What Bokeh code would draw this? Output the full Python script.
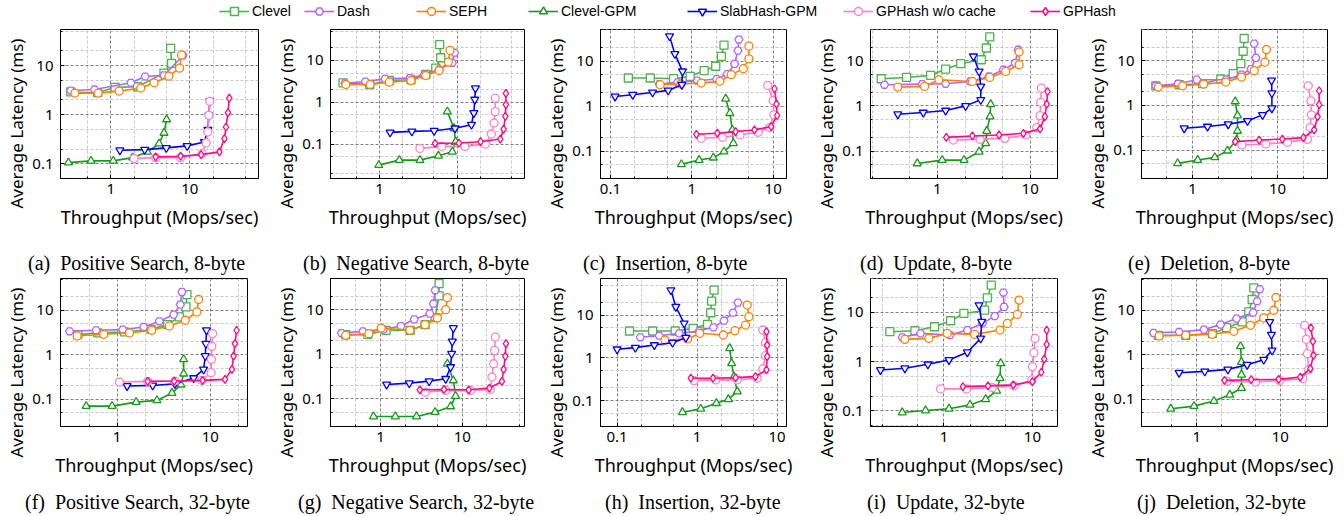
from bokeh.plotting import figure
from bokeh.layouts import column, row
from bokeh.models import Range1d, FixedTicker, Title, Legend, LegendItem, CustomJSTickFormatter, Div
from bokeh.embed import file_html
from bokeh.resources import INLINE

SERIES = ["Clevel", "Dash", "SEPH", "Clevel-GPM", "SlabHash-GPM", "GPHash w/o cache", "GPHash"]
KEYS = ["clevel", "dash", "seph", "clgpm", "slab", "gpnc", "gph"]
COLORS = ["#4DB34D", "#B366FF", "#FF8000", "#1A9A1A", "#0000FF", "#FF80C8", "#FF0A82"]
MARKERS = ["square", "hex", "circle", "triangle", "inverted_triangle", "circle", "diamond"]

PANELS = ["a", "b", "c", "d", "e", "f", "g", "h", "i", "j"]
CAPTIONS = ["(a)&nbsp; Positive Search, 8-byte", "(b)&nbsp; Negative Search, 8-byte",
            "(c)&nbsp; Insertion, 8-byte", "(d)&nbsp; Update, 8-byte", "(e)&nbsp; Deletion, 8-byte",
            "(f)&nbsp; Positive Search, 32-byte", "(g)&nbsp; Negative Search, 32-byte",
            "(h)&nbsp; Insertion, 32-byte", "(i)&nbsp; Update, 32-byte", "(j)&nbsp; Deletion, 32-byte"]
X_LABEL = "Throughput (Mops/sec)"
Y_LABEL = "Average Latency (ms)"
X_RANGES = [(0.23, 74), (0.235, 73), (0.0755, 14.6), (0.191, 19.7), (0.251, 38.7),
            (0.247, 25.1), (0.245, 57.7), (0.062, 13.1), (0.148, 19.2), (0.219, 36.6)]
Y_RANGES = [(0.0504, 54), (0.015, 55), (0.0244, 51), (0.0247, 49), (0.0236, 49.4),
            (0.0247, 51.5), (0.0239, 50), (0.0253, 71), (0.048, 49), (0.0247, 51.5)]
MAJOR_TICKS = [0.01, 0.1, 1, 10, 100]
MINOR_TICKS = [0.02, 0.05, 0.2, 0.5, 2, 5, 20, 50]

# ---- (a) Positive Search, 8-byte ----
a_clevel_tp = [0.31, 0.68, 1.13, 2.17, 4.7, 5.87, 5.71]
a_clevel_lat = [2.9, 2.8, 3.6, 3.7, 7.0, 11.1, 22.4]
a_dash_tp = [0.31, 0.62, 1.79, 2.71, 4.7, 8.2]
a_dash_lat = [3.1, 3.26, 4.46, 5.98, 6.3, 16]
a_seph_tp = [0.35, 0.69, 1.27, 2.39, 3.52, 5.43, 7.41, 7.85]
a_seph_lat = [2.75, 2.75, 3.02, 3.48, 4.45, 6.08, 8.83, 16.4]
a_clgpm_tp = [0.29, 0.56, 1.07, 1.88, 2.9, 4.07, 4.7, 5.08]
a_clgpm_lat = [0.106, 0.115, 0.115, 0.134, 0.175, 0.258, 0.425, 0.8]
a_slab_tp = [1.3, 2.68, 5.03, 9.25, 15.3, 16.9, 17.4, 17.9]
a_slab_lat = [0.189, 0.195, 0.211, 0.232, 0.279, 0.497, 0.97, 1.89]
a_gpnc_tp = [1.97, 3.69, 7.63, 14.3, 16.1, 16.9, 17.4, 17.9]
a_gpnc_lat = [0.128, 0.134, 0.134, 0.162, 0.267, 0.446, 0.97, 1.87]
a_gph_tp = [3.69, 7.63, 13.9, 23.7, 27.4, 28.7, 30.4, 31.6]
a_gph_lat = [0.139, 0.143, 0.154, 0.175, 0.327, 0.562, 1.1, 2.18]

# ---- (b) Negative Search, 8-byte ----
b_clevel_tp = [0.34, 0.75, 1.34, 2.54, 3.94, 5.29, 6.13, 5.94]
b_clevel_lat = [2.91, 2.66, 3.31, 3.44, 4.61, 6.55, 11.6, 23.8]
b_dash_tp = [0.36, 0.66, 1.18, 2.46, 3.75, 5.84, 8.63, 9.25]
b_dash_lat = [2.85, 3.13, 3.63, 3.77, 4.61, 6.08, 8.79, 15.3]
b_seph_tp = [0.37, 0.76, 1.34, 2.54, 3.94, 5.84, 7.67, 8.06]
b_seph_lat = [2.66, 2.66, 3.02, 3.31, 4.37, 5.75, 9.12, 17.4]
b_clgpm_tp = [0.98, 1.8, 3.31, 5.72, 8.63, 9.52, 9.06, 7.45]
b_clgpm_lat = [0.0313, 0.0413, 0.0413, 0.0525, 0.0655, 0.114, 0.238, 0.597]
b_slab_tp = [1.37, 2.61, 5.04, 9.34, 15.2, 16.3, 16.8, 17.1]
b_slab_lat = [0.19, 0.201, 0.208, 0.238, 0.291, 0.555, 1.16, 2.17]
b_gpnc_tp = [3.31, 6.31, 12.5, 23.0, 27.4, 29.7, 30.7, 30.7]
b_gpnc_lat = [0.0787, 0.088, 0.088, 0.1, 0.174, 0.319, 0.597, 1.25]
b_gph_tp = [5.19, 10.5, 19.9, 35.7, 39.4, 41.4, 42.1, 42.1]
b_gph_lat = [0.104, 0.106, 0.114, 0.132, 0.229, 0.461, 0.879, 1.64]

# ---- (c) Insertion, 8-byte ----
c_clevel_tp = [0.166, 0.309, 0.597, 0.955, 1.42, 1.97, 2.31, 2.49]
c_clevel_lat = [4.24, 4.24, 4.09, 4.61, 6.18, 7.73, 12.9, 22.8]
c_dash_tp = [0.398, 0.667, 1.17, 2.02, 2.73, 3.36, 3.69, 3.79]
c_dash_lat = [3.11, 3.39, 3.69, 4.02, 5.2, 8.71, 17.3, 30.5]
c_seph_tp = [0.409, 0.733, 1.31, 2.22, 3.06, 4.3, 5.04, 5.04]
c_seph_lat = [3.0, 3.11, 3.27, 3.57, 5.02, 6.85, 11.3, 21.7]
c_clgpm_tp = [0.746, 1.23, 1.84, 2.49, 3.24, 3.15, 2.94, 2.61]
c_clgpm_lat = [0.0503, 0.063, 0.071, 0.0967, 0.149, 0.295, 0.697, 1.46]
c_slab_tp = [0.114, 0.188, 0.33, 0.513, 0.755, 0.77, 0.62, 0.533]
c_slab_lat = [1.64, 1.79, 2.02, 2.24, 3.0, 5.97, 14.6, 36.3]
c_gpnc_tp = [1.31, 2.38, 3.91, 6.55, 9.1, 10.2, 10.0, 8.6]
c_gpnc_lat = [0.192, 0.202, 0.228, 0.262, 0.333, 0.64, 1.32, 2.9]
c_gph_tp = [1.14, 2.06, 3.46, 5.9, 9.46, 11.2, 11.0, 10.4]
c_gph_lat = [0.236, 0.249, 0.271, 0.295, 0.351, 0.618, 1.11, 2.44]

# ---- (d) Update, 8-byte ----
d_clevel_tp = [0.249, 0.467, 0.848, 1.23, 1.79, 2.98, 3.38, 3.67]
d_clevel_lat = [3.98, 4.26, 4.72, 6.53, 8.57, 10.5, 19.1, 33.6]
d_dash_tp = [0.27, 0.689, 1.23, 2.25, 3.61, 5.15, 6.89, 7.42]
d_dash_lat = [2.93, 3.03, 3.08, 3.47, 4.49, 6.31, 8.87, 17.5]
d_seph_tp = [0.376, 0.73, 1.04, 2.39, 3.67, 5.46, 7.61, 7.61]
d_seph_lat = [2.6, 2.69, 3.78, 3.47, 4.26, 5.79, 8.15, 15.6]
d_clgpm_tp = [0.608, 1.13, 1.94, 2.82, 3.32, 3.41, 3.7, 3.76]
d_clgpm_lat = [0.0532, 0.063, 0.063, 0.0967, 0.148, 0.278, 0.579, 1.09]
d_slab_tp = [0.376, 0.706, 1.23, 2.02, 2.94, 2.94, 2.82, 2.45]
d_slab_lat = [0.653, 0.711, 0.787, 1.0, 1.36, 2.69, 5.79, 12.5]
d_gpnc_tp = [1.49, 2.89, 5.33, 8.98, 11.8, 12.8, 13.0, 13.2]
d_gpnc_lat = [0.175, 0.182, 0.191, 0.227, 0.33, 0.61, 1.2, 2.47]
d_gph_tp = [1.25, 2.39, 4.63, 8.47, 12.8, 14.4, 15.1, 15.4]
d_gph_lat = [0.201, 0.216, 0.227, 0.247, 0.308, 0.579, 1.09, 2.08]

# ---- (e) Deletion, 8-byte ----
e_clevel_tp = [0.37, 0.697, 1.31, 2.15, 3.01, 3.7, 3.94, 4.05]
e_clevel_lat = [2.75, 2.9, 3.06, 3.89, 5.12, 8.57, 16.2, 31.1]
e_dash_tp = [0.37, 0.678, 1.12, 2.47, 3.77, 4.86, 5.56, 5.31]
e_dash_lat = [2.75, 3.06, 3.76, 3.76, 4.86, 6.5, 11.5, 24.0]
e_seph_tp = [0.395, 0.763, 1.35, 2.47, 3.77, 5.31, 7.1, 7.42]
e_seph_lat = [2.57, 2.75, 3.0, 3.33, 4.3, 5.97, 9.18, 17.6]
e_clgpm_tp = [0.667, 1.15, 1.83, 2.58, 3.29, 3.38, 3.38, 3.18]
e_clgpm_lat = [0.0512, 0.0608, 0.0697, 0.0984, 0.17, 0.271, 0.597, 1.23]
e_slab_tp = [0.798, 1.5, 2.63, 4.43, 6.66, 8.58, 8.58, 8.5]
e_slab_lat = [0.311, 0.339, 0.382, 0.454, 0.618, 0.871, 1.89, 3.63]
e_gpnc_tp = [3.81, 7.29, 13.1, 22.5, 24.2, 25.0, 24.7, 23.0]
e_gpnc_lat = [0.132, 0.139, 0.151, 0.176, 0.322, 0.618, 1.27, 2.75]
e_gph_tp = [3.18, 6.09, 11.4, 20.2, 27.0, 29.6, 30.9, 30.9]
e_gph_lat = [0.156, 0.17, 0.179, 0.192, 0.285, 0.568, 1.04, 2.13]

# ---- (f) Positive Search, 32-byte ----
f_clevel_tp = [0.379, 0.621, 1.2, 2.31, 3.49, 4.65, 5.49, 5.62]
f_clevel_lat = [2.84, 3.1, 3.26, 3.74, 4.76, 7.08, 11.9, 22.5]
f_dash_tp = [0.309, 0.596, 1.15, 1.93, 2.84, 4.05, 4.77, 4.97]
f_dash_lat = [3.37, 3.56, 3.68, 4.22, 5.66, 8.0, 13.4, 25.8]
f_seph_tp = [0.373, 0.72, 1.36, 2.35, 3.64, 5.4, 7.19, 7.5]
f_seph_lat = [2.65, 2.89, 3.1, 3.56, 4.45, 5.96, 9.18, 17.4]
f_clgpm_tp = [0.466, 0.884, 1.6, 2.68, 3.88, 4.85, 5.18, 5.18]
f_clgpm_lat = [0.0708, 0.0708, 0.0871, 0.095, 0.139, 0.214, 0.378, 0.792]
f_slab_tp = [1.28, 2.41, 4.18, 6.63, 8.48, 8.84, 8.98, 9.12]
f_slab_lat = [0.2, 0.206, 0.225, 0.301, 0.472, 0.94, 1.78, 3.56]
f_gpnc_tp = [1.06, 2.13, 4.18, 8.14, 10.2, 10.3, 10.4, 10.6]
f_gpnc_lat = [0.245, 0.254, 0.258, 0.267, 0.397, 0.792, 1.55, 2.99]
f_gph_tp = [2.13, 4.1, 8.27, 14.4, 17.1, 17.8, 18.4, 19.2]
f_gph_lat = [0.254, 0.258, 0.267, 0.281, 0.472, 0.94, 1.78, 3.56]

# ---- (g) Negative Search, 32-byte ----
g_clevel_tp = [0.376, 0.702, 1.17, 2.31, 3.52, 4.66, 5.21, 5.21]
g_clevel_lat = [2.74, 2.79, 3.44, 3.44, 4.6, 6.6, 20.3, 38.4]
g_dash_tp = [0.333, 0.61, 1.09, 1.78, 2.59, 4.01, 4.44, 4.66]
g_dash_lat = [2.99, 3.26, 3.61, 4.3, 6.07, 8.13, 13.6, 27.2]
g_seph_tp = [0.376, 0.722, 1.02, 2.29, 3.52, 4.97, 6.28, 6.58]
g_seph_lat = [2.65, 2.89, 3.87, 3.44, 4.6, 6.5, 10.0, 18.6]
g_clgpm_tp = [0.822, 1.52, 2.76, 4.66, 7.21, 8.3, 7.78, 6.58]
g_clgpm_lat = [0.0401, 0.0401, 0.0401, 0.0502, 0.0673, 0.115, 0.258, 0.612]
g_slab_tp = [1.19, 2.25, 3.94, 6.28, 7.21, 7.42, 7.56, 7.78]
g_slab_lat = [0.21, 0.225, 0.249, 0.281, 0.515, 1.03, 1.94, 3.87]
g_gpnc_tp = [3.52, 6.28, 12.6, 22.1, 23.1, 24.2, 24.9, 25.4]
g_gpnc_lat = [0.141, 0.154, 0.154, 0.162, 0.307, 0.612, 1.22, 2.43]
g_gph_tp = [3.03, 5.98, 12.0, 21.5, 30.6, 32.1, 33.6, 34.2]
g_gph_lat = [0.159, 0.162, 0.159, 0.174, 0.245, 0.456, 0.894, 1.72]

# ---- (h) Insertion, 32-byte ----
h_clevel_tp = [0.143, 0.278, 0.532, 0.891, 1.35, 1.48, 1.52, 1.63]
h_clevel_lat = [4.25, 4.25, 4.25, 4.9, 6.06, 11.3, 21.2, 38.1]
h_dash_tp = [0.195, 0.336, 0.597, 1.06, 1.6, 2.17, 2.81, 3.24]
h_dash_lat = [3.03, 3.3, 3.75, 4.25, 5.17, 7.38, 11.3, 19.4]
h_seph_tp = [0.396, 0.759, 1.08, 2.13, 2.97, 4.03, 4.44, 4.23]
h_seph_lat = [2.62, 2.77, 3.75, 3.43, 4.32, 5.85, 9.15, 17.1]
h_clgpm_tp = [0.656, 1.11, 1.74, 2.46, 3.18, 2.89, 2.7, 2.55]
h_clgpm_lat = [0.0544, 0.0652, 0.0883, 0.109, 0.165, 0.368, 0.751, 1.68]
h_slab_tp = [0.1, 0.169, 0.292, 0.493, 0.723, 0.689, 0.542, 0.47]
h_slab_lat = [1.59, 1.74, 2.0, 2.27, 2.97, 6.4, 15.6, 38.1]
h_gpnc_tp = [0.918, 1.71, 3.18, 5.63, 6.63, 7.16, 7.16, 6.63]
h_gpnc_lat = [0.297, 0.308, 0.308, 0.337, 0.555, 1.13, 2.27, 4.48]
h_gph_tp = [0.834, 1.58, 3.03, 5.37, 7.36, 7.51, 7.51, 7.36]
h_gph_lat = [0.337, 0.337, 0.349, 0.368, 0.526, 1.07, 2.0, 4.1]

# ---- (i) Update, 32-byte ----
i_clevel_tp = [0.245, 0.47, 0.784, 1.19, 1.68, 2.89, 3.1, 3.43]
i_clevel_lat = [4.06, 4.25, 5.12, 6.78, 9.55, 11.1, 19.8, 35.8]
i_dash_tp = [0.338, 0.544, 1.17, 1.84, 2.72, 3.75, 4.78, 4.7]
i_dash_lat = [3.11, 3.75, 3.47, 4.38, 5.98, 8.43, 13.0, 25.4]
i_seph_tp = [0.362, 0.676, 1.09, 2.22, 4.3, 5.21, 6.76, 7.06]
i_seph_lat = [2.84, 2.97, 3.75, 3.58, 4.38, 5.98, 9.1, 17.8]
i_clgpm_tp = [0.338, 0.62, 1.14, 1.97, 2.96, 3.95, 4.3, 4.38]
i_clgpm_lat = [0.0925, 0.1016, 0.11, 0.132, 0.172, 0.254, 0.459, 0.925]
i_slab_tp = [0.192, 0.362, 0.659, 1.14, 1.84, 2.6, 2.67, 2.49]
i_slab_lat = [0.678, 0.733, 0.883, 1.08, 1.55, 2.97, 6.47, 14.1]
i_gpnc_tp = [0.917, 1.81, 3.52, 6.2, 9.83, 10.0, 10.4, 10.7]
i_gpnc_lat = [0.279, 0.279, 0.297, 0.321, 0.425, 0.792, 1.52, 2.97]
i_gph_tp = [1.64, 3.15, 6.09, 10.0, 12.6, 13.6, 14.5, 14.5]
i_gph_lat = [0.311, 0.321, 0.337, 0.393, 0.608, 1.13, 2.24, 4.39]

# ---- (j) Deletion, 32-byte ----
j_clevel_tp = [0.347, 0.74, 1.54, 2.28, 3.5, 4.2, 4.6, 4.81]
j_clevel_lat = [2.74, 2.74, 2.99, 4.07, 5.47, 9.18, 17.4, 31.8]
j_dash_tp = [0.305, 0.616, 1.22, 1.93, 2.99, 4.73, 5.28, 5.67]
j_dash_lat = [3.1, 3.26, 3.68, 4.76, 6.5, 8.87, 15.9, 29.6]
j_seph_tp = [0.356, 0.74, 1.54, 2.78, 4.39, 6.33, 8.33, 8.87]
j_seph_lat = [2.65, 2.74, 2.89, 3.37, 4.6, 6.73, 10.0, 19.3]
j_clgpm_tp = [0.49, 0.93, 1.61, 2.49, 3.43, 3.43, 3.43, 3.34]
j_clgpm_lat = [0.0617, 0.0708, 0.0918, 0.127, 0.18, 0.358, 0.69, 1.55]
j_slab_tp = [0.616, 1.25, 2.36, 4.01, 6.33, 7.96, 7.82, 7.46]
j_slab_lat = [0.397, 0.426, 0.472, 0.601, 0.779, 1.26, 2.84, 5.47]
j_gpnc_tp = [2.32, 5.04, 9.82, 18.6, 21.7, 21.1, 20.4, 19.5]
j_gpnc_lat = [0.254, 0.245, 0.267, 0.291, 0.464, 1.06, 2.23, 4.6]
j_gph_tp = [2.15, 4.48, 9.55, 17.3, 22.8, 24.9, 24.5, 23.2]
j_gph_lat = [0.267, 0.277, 0.281, 0.318, 0.489, 0.975, 2.01, 4.0]

DATA = globals()

# ---------------- layout ----------------
SANS = "'Noto Sans', 'DejaVu Sans', sans-serif"
SERIF = "'Liberation Serif', 'DejaVu Serif', serif"
NARROW = "'Liberation Sans Narrow', 'Liberation Sans', sans-serif"
FIG_W = [270, 270, 270, 270, 264]
BORDER_L = [59, 59, 59, 60, 61]
FRAME_W = [[199, 195, 187, 187, 186], [188, 195, 187, 187, 186]]
LEGEND_H = 22
FRAME_H = [149, 148]
BORDER_T = [7, 3]
BORDER_B = 62
CAP_H = [35, 27]          # height of the caption strip under each row
CAP_PAD_TOP = [12, 3]
CAP_PAD_LEFT = [[28, 33, 43, 50, 48], [25, 28, 65, 57, 57]]
YLAB_OFFSET = [-30, -31]  # y-title start, measured from the frame bottom

fmt = CustomJSTickFormatter(code="return String(tick)")


def make_panel(idx):
    r, c = divmod(idx, 5)
    pid = PANELS[idx]
    w = FIG_W[c]
    bl = BORDER_L[c]
    fw = FRAME_W[r][c]
    br = w - bl - fw
    bt = BORDER_T[r]
    fh = FRAME_H[r]
    h = bt + fh + BORDER_B
    p = figure(width=w, height=h, x_axis_type="log", y_axis_type="log",
               x_range=Range1d(*X_RANGES[idx]), y_range=Range1d(*Y_RANGES[idx]),
               output_backend="svg", toolbar_location=None,
               min_border_left=bl, min_border_right=br, min_border_top=bt,
               min_border_bottom=BORDER_B)
    p.outline_line_color = "black"
    p.outline_line_width = 1
    p.background_fill_color = "white"
    for ax in (p.xaxis[0], p.yaxis[0]):
        ax.ticker = FixedTicker(ticks=MAJOR_TICKS, minor_ticks=MINOR_TICKS)
        ax.formatter = fmt
        ax.major_tick_in = 4
        ax.major_tick_out = 0
        ax.minor_tick_in = 2
        ax.minor_tick_out = 0
        ax.axis_line_color = "black"
        ax.major_tick_line_color = "black"
        ax.minor_tick_line_color = "black"
        ax.major_label_text_font = SANS
        ax.major_label_text_font_size = "15px"
        ax.major_label_text_color = "black"
    p.xaxis.axis_label = X_LABEL
    p.xaxis.axis_label_text_font = SANS
    p.xaxis.axis_label_text_font_size = "18px"
    p.xaxis.axis_label_text_font_style = "normal"
    p.xaxis.axis_label_text_color = "black"
    p.xaxis.major_label_standoff = 5
    p.xaxis.axis_label_standoff = 8
    p.yaxis.major_label_standoff = 7
    for g in (p.xgrid[0], p.ygrid[0]):
        g.grid_line_color = "#808080"
        g.grid_line_dash = "3 2"
        g.grid_line_width = 1
        g.minor_grid_line_color = "#c8c8c8"
        g.minor_grid_line_dash = "3 2"
        g.minor_grid_line_width = 1
    for k, key in enumerate(KEYS):
        xs = DATA[f"{pid}_{key}_tp"]
        ys = DATA[f"{pid}_{key}_lat"]
        p.line(xs, ys, line_color=COLORS[k], line_width=1.6)
        p.scatter(xs, ys, marker=MARKERS[k], size=8, line_color=COLORS[k], line_width=1.3,
                  fill_color="white")
    ytitle = Title(text=Y_LABEL, align="left", offset=YLAB_OFFSET[r], standoff=4,
                   text_font=SANS, text_font_size="17px", text_font_style="normal",
                   text_color="black")
    p.add_layout(ytitle, "left")
    cap = Div(text=(f'<div style="padding-top:{CAP_PAD_TOP[r]}px; '
                    f'padding-left:{CAP_PAD_LEFT[r][c]}px; white-space:nowrap; '
                    f'font-family:{SERIF}; font-size:20px; line-height:22px; color:black;">'
                    f'{CAPTIONS[idx]}</div>'),
              width=w, height=CAP_H[r], margin=0)
    return column(p, cap, spacing=0)


panels = [make_panel(i) for i in range(10)]

# ---------------- legend strip ----------------
lf = figure(width=1344, height=LEGEND_H, x_range=Range1d(0, 1), y_range=Range1d(0, 1),
            x_axis_type=None, y_axis_type=None, output_backend="svg", toolbar_location=None,
            min_border=0, outline_line_color=None)
LEG_X = [219, 304, 416, 528, 687, 843, 1030]
NAN = [float("nan")]
for k in range(7):
    rl = lf.line(NAN, NAN, line_color=COLORS[k], line_width=1.6)
    rs = lf.scatter(NAN, NAN, marker=MARKERS[k], size=11, line_color=COLORS[k], line_width=1.5,
                    fill_color="white")
    leg = Legend(items=[LegendItem(label=SERIES[k], renderers=[rl, rs])],
                 location=(LEG_X[k], 1), orientation="horizontal",
                 glyph_width=30, glyph_height=20, label_height=20, label_standoff=3,
                 padding=0, margin=0, spacing=0, border_line_color=None,
                 background_fill_alpha=0,
                 label_text_font=NARROW, label_text_font_size="14px", label_text_color="black")
    lf.add_layout(leg, "center")

layout = column(lf, row(*panels[:5], spacing=0), row(*panels[5:], spacing=0), spacing=0)
open("out.html", "w").write(file_html(layout, INLINE))
